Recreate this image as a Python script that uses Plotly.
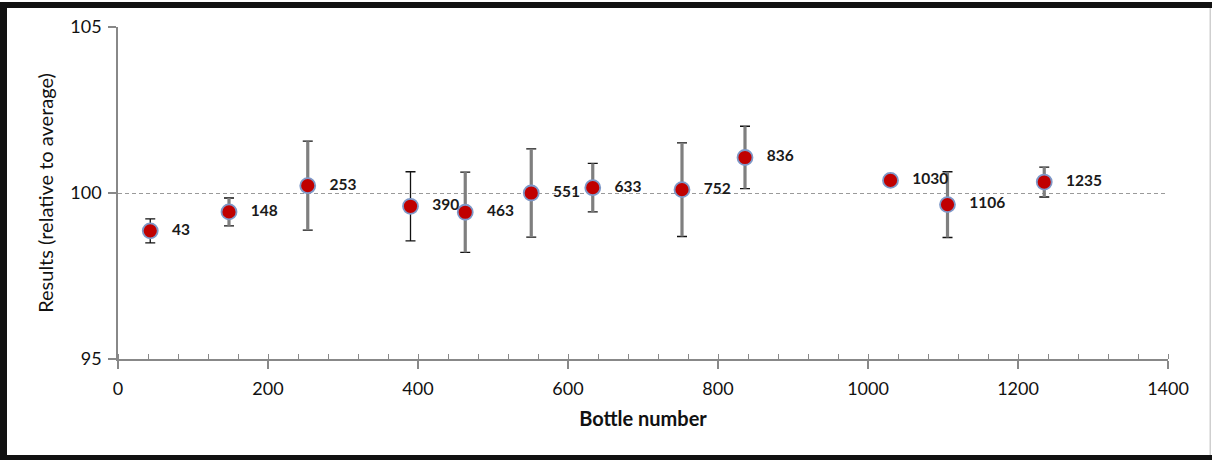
import plotly.graph_objects as go

# ---- data ----
bottles = [43, 148, 253, 390, 463, 551, 633, 752, 836, 1030, 1106, 1235]
results = [98.86, 99.43, 100.22, 99.60, 99.42, 100.0, 100.16, 100.10, 101.07, 100.38, 99.65, 100.33]
err_black = [0.36, 0.42, 1.34, 1.04, 1.21, 1.33, 0.73, 1.41, 0.94, None, 0.99, 0.45]
err_gray = [None, 0.42, 1.34, None, 1.21, 1.33, 0.73, 1.41, 0.94, None, 0.99, 0.45]
labels = ["\u00a0\u00a0\u00a0" + str(b) for b in bottles]
x_title = "Bottle number"
y_title = "Results (relative to average)"

FONT = "Lato, 'Open Sans', sans-serif"

fig = go.Figure()

# thin black error bars with caps
fig.add_trace(go.Scatter(
    x=bottles, y=results, mode="markers",
    marker=dict(size=1, color="rgba(0,0,0,0)"),
    error_y=dict(type="data", array=err_black, visible=True,
                 color="#111111", thickness=1.3, width=5),
    hoverinfo="skip", showlegend=False,
))

# thick gray error bars + markers + labels
fig.add_trace(go.Scatter(
    x=bottles, y=results, mode="markers+text",
    text=labels, textposition="middle right",
    textfont=dict(family=FONT, size=15.5, color="#1a1a1a", weight="bold"),
    marker=dict(size=15, color="#C00000", line=dict(color="#7E98C8", width=1.8)),
    error_y=dict(type="data", array=err_gray, visible=True,
                 color="#7f7f7f", thickness=3.2, width=0),
    showlegend=False,
))

W, H = 1212, 460
L, R, T, B = 118, 44, 27, 101
pw, ph = W - L - R, H - T - B

def px(xp):
    return (xp - L) / pw

def py(yp):
    return (H - B - yp) / ph

shapes = [
    # frame
    dict(type="rect", xref="paper", yref="paper", x0=px(0), x1=px(7), y0=py(460), y1=py(2),
         fillcolor="#111111", line=dict(width=0), layer="above"),
    dict(type="rect", xref="paper", yref="paper", x0=px(0), x1=px(1212), y0=py(8), y1=py(2),
         fillcolor="#111111", line=dict(width=0), layer="above"),
    dict(type="rect", xref="paper", yref="paper", x0=px(0), x1=px(1212), y0=py(460), y1=py(455),
         fillcolor="#111111", line=dict(width=0), layer="above"),
    dict(type="rect", xref="paper", yref="paper", x0=px(1209.5), x1=px(1211), y0=py(455), y1=py(8),
         fillcolor="#cfcfcf", line=dict(width=0), layer="above"),
]

fig.update_layout(
    width=W, height=H,
    margin=dict(l=L, r=R, t=T, b=B, pad=0),
    paper_bgcolor="white", plot_bgcolor="white",
    font=dict(family=FONT, color="#111111"),
    shapes=shapes,
    xaxis=dict(
        range=[0, 1400], dtick=200, tick0=0,
        showgrid=False, zeroline=False,
        showline=True, linecolor="#888888", linewidth=1.5,
        ticks="outside", ticklen=8, tickcolor="#888888", tickwidth=1.5,
        minor=dict(ticks="inside", ticklen=5, dtick=40, tickcolor="#888888", tickwidth=1, showgrid=False),
        tickfont=dict(family=FONT, size=18, color="#111111"),
        ticklabelstandoff=5,
        title=dict(text="<b>" + x_title + "</b>", font=dict(family=FONT, size=20, color="#111111"), standoff=14),
    ),
    yaxis=dict(
        range=[95, 105], tickvals=[95, 100, 105],
        showgrid=True, gridcolor="#9a9a9a", griddash="4px,3px", gridwidth=1,
        zeroline=False,
        showline=True, linecolor="#888888", linewidth=1.5,
        ticks="outside", ticklen=8, tickcolor="#888888", tickwidth=1.5,
        tickfont=dict(family=FONT, size=18, color="#111111"),
        ticklabelstandoff=3,
        title=dict(text=y_title, font=dict(family=FONT, size=20, color="#111111"), standoff=11),
    ),
)

fig.write_html("out.html", config={"displayModeBar": False},
               post_script="document.body.style.margin='0';document.body.style.overflow='hidden';")
